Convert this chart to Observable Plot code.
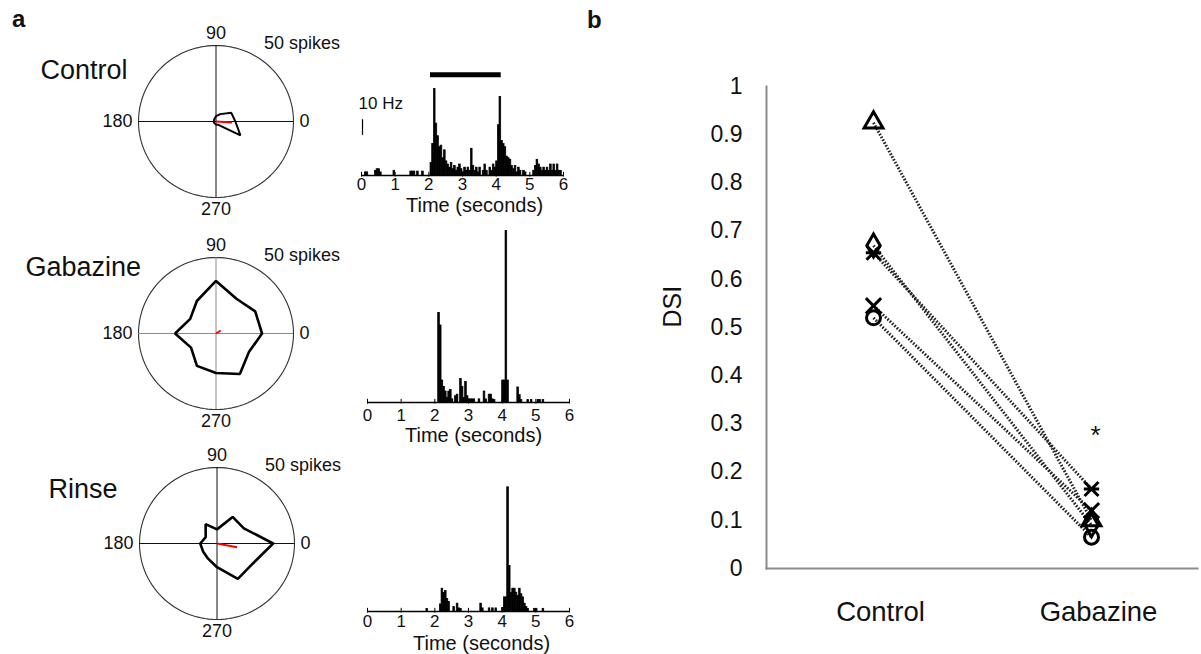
<!DOCTYPE html>
<html><head><meta charset="utf-8">
<script src="https://cdn.jsdelivr.net/npm/d3@7"></script>
<script src="https://cdn.jsdelivr.net/npm/@observablehq/plot@0.6"></script>
<style>
body{margin:0;background:#fff;}
#root{position:relative;width:1201px;height:654px;overflow:hidden;background:#fff;font-family:'Liberation Sans',Arial,sans-serif;color:#111;}
.lbl{position:absolute;font-weight:bold;font-size:24px;line-height:24px;}
</style></head><body><div id="root"></div>
<script>
// ---------- Panel a: polar tuning ----------
const directions = [0, 30, 60, 90, 120, 150, 180, 210, 240, 270, 300, 330];
const ringSpikes = 50;
const ringLabel = "50 spikes";
const conditionsA = ["Control", "Gabazine", "Rinse"];
const controlSpikes  = [12.5, 11.4, 5.6, 3.5, 2.0, 1.5, 1.5, 1.5, 1.5, 2.0, 2.4, 18.2];
const gabazineSpikes = [29.7, 29.2, 26.4, 34.6, 24.7, 19.2, 26.4, 18.6, 24.6, 26.0, 30.8, 24.5];
const rinseSpikes    = [36.2, 20.0, 20.2, 9.3, 14.7, 8.4, 10.8, 10.4, 11.5, 15.6, 26.9, 26.6];
const vectorMagnitude = [10.4, 3.6, 13.2];
const vectorAngle = [-4, 33, -11];
const angleLabels = ["0", "90", "180", "270"];

// ---------- Panel a: PSTH ----------
const binWidth = 0.05;
const timeTicks = [0, 1, 2, 3, 4, 5, 6];
const timeLabel = "Time (seconds)";
const stimulus = [2.05, 4.15];
const scaleBarHz = 10;
const scaleBarLabel = "10 Hz";
const controlBinStart = [0.10,0.15,0.40,0.45,0.50,0.55,0.95,1.45,1.50,1.55,1.65,1.80,
  2.05,2.10,2.15,2.20,2.25,2.30,2.35,2.40,2.45,2.50,2.55,2.60,2.65,2.70,2.75,2.80,2.85,2.90,2.95,
  3.00,3.05,3.10,3.15,3.20,3.25,3.30,3.35,3.40,3.45,3.50,3.60,3.65,3.70,
  3.80,3.85,3.90,3.95,4.00,4.05,4.10,4.15,4.20,4.25,4.30,4.35,4.40,4.45,4.50,4.55,4.60,4.65,4.70,
  4.80,4.85,5.10,5.15,5.20,5.25,5.30,5.35,5.40,5.45,5.50,5.55,5.60,5.65,5.70,5.75,5.80,5.85,5.90];
const controlRate = [2,2,3,4,4,2,3,2.5,2.5,2.5,2.5,2.5,
  8,20,55,33,25,18,19,11,16,9,7,5,8,4,6,3,5,7,4,
  2,5,3,5,3,17,6,3,5,2,5,3,7,3,
  5,3,7,5,9,32,50,22,20,18,12,11,10,6,4,6,2,5,3,
  3,2,3,6,10,7,5,3,5,3,5,3,7,3,7,3,7,3,3];
const gabazineBinStart = [2.10,2.15,2.20,2.25,2.30,2.35,2.40,2.45,2.50,2.60,2.65,2.75,2.80,2.85,2.90,2.95,3.00,3.05,3.10,3.15,
  3.30,3.45,3.50,3.60,3.65,3.70,3.75,4.00,4.05,4.10,4.15,4.45,4.50,4.55,4.75,4.85,5.05,5.10,5.20];
const gabazineRate = [57,49,14,10,7,3,7,8,2,4,5,15,10,3,13,4,2,2,2,2,
  2,7,2,5,5,2,1.5,14,14,109,14,9.6,4.7,1.5,1.5,1.5,1.5,1.5,1.5];
const rinseBinStart = [1.75,2.15,2.20,2.25,2.30,2.35,2.40,2.55,2.65,2.70,2.75,3.35,3.40,3.60,3.70,3.80,
  4.00,4.05,4.10,4.15,4.20,4.25,4.30,4.35,4.40,4.45,4.50,4.55,4.60,4.65,4.70,4.75,4.95,5.00,5.20];
const rinseRate = [1.7,4.5,14.5,11.7,13,8,6,2.8,5,2,1.7,5,2,2,2,2,
  2.3,9,9,79,29,11.7,14.5,14.5,12,10,14.5,11,9,5,2.8,1.7,1.7,1.7,1.7];

// ---------- Panel b: DSI ----------
const conditionsB = ["Control", "Gabazine"];
const cellSymbols = ["triangle", "diamond", "asterisk", "times", "circle"];
const dsiControl  = [0.925, 0.67, 0.655, 0.545, 0.52];
const dsiGabazine = [0.10, 0.09, 0.165, 0.12, 0.065];
const dsiTicks = [0, 0.1, 0.2, 0.3, 0.4, 0.5, 0.6, 0.7, 0.8, 0.9, 1];
const dsiLabel = "DSI";
const significance = {condition: "Gabazine", dsi: 0.275, text: "*"};

// ---------- helpers ----------
const FONT = "'Liberation Sans', Arial, sans-serif";
const root = document.getElementById("root");
const baseStyle = {background: "none", overflow: "visible", fontFamily: FONT, color: "#111"};
function place(node, left, top) {
  node.style.position = "absolute";
  node.style.left = left + "px";
  node.style.top = top + "px";
  root.append(node);
}
function label(txt, left, top) {
  const d = document.createElement("div");
  d.className = "lbl"; d.textContent = txt;
  d.style.left = left + "px"; d.style.top = top + "px";
  root.append(d);
}
const toXY = (r, deg) => ({x: r * Math.cos(deg * Math.PI / 180), y: r * Math.sin(deg * Math.PI / 180)});

// ---------- polar plots ----------
const polarLayout = [
  {cx: 215.3, cy: 121, cross: "#111", lw: 2,   nameDx: -98,  nameDy: -51},
  {cx: 215,   cy: 333, cross: "#8a8a8a", lw: 2.6, nameDx: -113, nameDy: -66},
  {cx: 216,   cy: 543, cross: "#111", lw: 2.6, nameDx: -91,  nameDy: -54}
];
const polarSpikes = [controlSpikes, gabazineSpikes, rinseSpikes];

polarLayout.forEach((L, k) => {
  const mL = 200, mR = 140, mT = 40, mB = 30, iw = 155, ih = 152;
  const spikes = polarSpikes[k];
  const poly = directions.map((d, i) => toXY(spikes[i], d));
  poly.push(poly[0]);
  const ring = d3.range(0, 361, 3).map(a => toXY(ringSpikes, a));
  const v = toXY(vectorMagnitude[k], vectorAngle[k]);
  const lab = angleLabels.map(t => ({t, ...toXY(ringSpikes, +t)}));
  const fs = 18;
  const svg = Plot.plot({
    width: mL + iw + mR, height: mT + ih + mB,
    marginLeft: mL, marginRight: mR, marginTop: mT, marginBottom: mB,
    style: baseStyle,
    x: {domain: [-ringSpikes, ringSpikes], axis: null},
    y: {domain: [-ringSpikes, ringSpikes], axis: null},
    marks: [
      Plot.line(ring, {x: "x", y: "y", stroke: "#333", strokeWidth: 1.1}),
      Plot.ruleX([0], {y1: -ringSpikes, y2: ringSpikes, stroke: L.cross, strokeWidth: 1}),
      Plot.ruleY([0], {x1: -ringSpikes, x2: ringSpikes, stroke: L.cross, strokeWidth: 1}),
      Plot.line(poly, {x: "x", y: "y", stroke: "#000", strokeWidth: L.lw, strokeLinejoin: "miter"}),
      Plot.link([v], {x1: 0, y1: 0, x2: "x", y2: "y", stroke: "#ff0000", strokeWidth: 2}),
      Plot.text(lab.filter(d => d.t === "90"), {x: "x", y: "y", text: "t", dy: -12, fontSize: fs, lineAnchor: "middle"}),
      Plot.text(lab.filter(d => d.t === "270"), {x: "x", y: "y", text: "t", dy: 12, fontSize: fs, lineAnchor: "middle"}),
      Plot.text(lab.filter(d => d.t === "180"), {x: "x", y: "y", text: "t", dx: -6, fontSize: fs, textAnchor: "end", lineAnchor: "middle"}),
      Plot.text(lab.filter(d => d.t === "0"), {x: "x", y: "y", text: "t", dx: 6, fontSize: fs, textAnchor: "start", lineAnchor: "middle"}),
      Plot.text([ringLabel], {x: 0, y: ringSpikes, text: d => d, dx: 48, dy: -2, fontSize: fs, textAnchor: "start", lineAnchor: "middle"}),
      Plot.text([conditionsA[k]], {x: -ringSpikes, y: 0, text: d => d, dx: L.nameDx, dy: L.nameDy, fontSize: 27, textAnchor: "start", lineAnchor: "middle"})
    ]
  });
  place(svg, L.cx - mL - iw / 2, L.cy - mT - ih / 2);
});

// ---------- PSTHs ----------
const psthLayout = [
  {x0: 361,   base: 175,   tickPad: 2, titleDy: 30, titleDx: 12},
  {x0: 366.5, base: 402.3, tickPad: 6, titleDy: 33, titleDx: 5},
  {x0: 367,   base: 611,   tickPad: 3, titleDy: 32, titleDx: 13}
];
const psthData = [[controlBinStart, controlRate], [gabazineBinStart, gabazineRate], [rinseBinStart, rinseRate]];

psthLayout.forEach((L, k) => {
  const mL = 25, mR = 20, mT = 2, mB = 45, iw = 202, ih = 173;
  const [ts, hz] = psthData[k];
  const rows = ts.map((t, i) => ({t, hz: hz[i]}));
  const marks = [
    Plot.rectY(rows, {x1: "t", x2: d => d.t + binWidth, y: "hz", fill: "#000", stroke: "#000", strokeWidth: 0.7}),
    Plot.ruleY([0], {stroke: "#000", strokeWidth: 1.4}),
    Plot.ruleX(timeTicks, {x: d => d, y1: -1, y2: 2, stroke: "#000", strokeWidth: 1}),
    Plot.axisX({ticks: timeTicks, tickFormat: d => String(d), tickSize: 0, tickPadding: L.tickPad, fontSize: 17, label: null}),
    Plot.text([timeLabel], {frameAnchor: "bottom", text: d => d, dy: L.titleDy, dx: L.titleDx, fontSize: 20, lineAnchor: "middle"})
  ];
  if (k === 0) {
    marks.push(
      Plot.ruleY([stimulus], {x1: d => d[0], x2: d => d[1], y: 64, stroke: "#000", strokeWidth: 5}),
      Plot.ruleX([scaleBarHz], {x: 0.03, y1: 25.5, y2: d => 25.5 + d, stroke: "#000", strokeWidth: 1.2}),
      Plot.text([scaleBarLabel], {x: 0, y: 46, text: d => d, dx: -3, textAnchor: "start", lineAnchor: "middle", fontSize: 17})
    );
  }
  const svg = Plot.plot({
    width: mL + iw + mR, height: mT + ih + mB,
    marginLeft: mL, marginRight: mR, marginTop: mT, marginBottom: mB,
    style: baseStyle,
    x: {domain: [0, 6]},
    y: {domain: [0, 110], axis: null},
    marks
  });
  place(svg, L.x0 - mL, L.base - ih - mT);
});

// ---------- Panel b ----------
const asteriskX = {draw(ctx, size) {
  const r = Math.sqrt(size / Math.PI);
  ctx.moveTo(-r, -r); ctx.lineTo(r, r);
  ctx.moveTo(r, -r); ctx.lineTo(-r, r);
  ctx.moveTo(-r * 1.1, 0); ctx.lineTo(r * 1.1, 0);
}};
const pairs = dsiControl.map((c, i) => ({c, g: dsiGabazine[i], sym: cellSymbols[i]}));
const dotMarks = pairs.map(p => Plot.dot(
  [{cond: conditionsB[0], dsi: p.c}, {cond: conditionsB[1], dsi: p.g}],
  {x: "cond", y: "dsi", symbol: p.sym === "asterisk" ? asteriskX : p.sym, r: 7, stroke: "#000", strokeWidth: 3, fill: "none"}
));
const bSvg = Plot.plot({
  width: 611, height: 654,
  marginLeft: 176, marginRight: 4, marginTop: 86, marginBottom: 86,
  style: baseStyle,
  x: {type: "point", domain: conditionsB, padding: 0.488},
  y: {domain: [0, 1]},
  marks: [
    Plot.axisY({ticks: dsiTicks, tickFormat: d => String(d), tickSize: 0, tickPadding: 24, fontSize: 23, label: null}),
    Plot.axisX({tickSize: 0, tickPadding: 33, fontSize: 27.5, label: null, dx: 7}),
    Plot.frame({anchor: "left", stroke: "#8c8c8c", strokeWidth: 2}),
    Plot.frame({anchor: "bottom", stroke: "#8c8c8c", strokeWidth: 2}),
    Plot.link(pairs, {x1: () => conditionsB[0], x2: () => conditionsB[1], y1: "c", y2: "g",
      stroke: "#222", strokeWidth: 3, strokeDasharray: "1.6,1.6"}),
    ...dotMarks,
    Plot.text([dsiLabel], {frameAnchor: "left", text: d => d, dx: -94, rotate: -90, fontSize: 25, lineAnchor: "middle"}),
    Plot.text([significance], {x: "condition", y: "dsi", text: "text", fontSize: 26, dx: 4, lineAnchor: "middle"})
  ]
});
place(bSvg, 590, 0);

label("a", 12, 7);
label("b", 587, 8);
</script></body></html>
